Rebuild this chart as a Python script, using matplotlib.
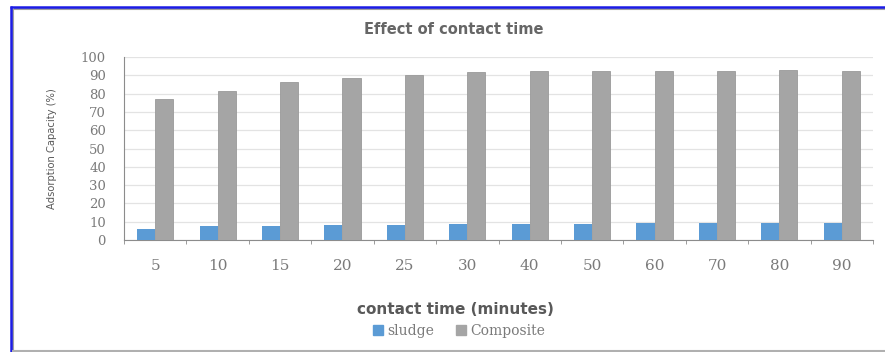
import matplotlib.pyplot as plt
import numpy as np
from matplotlib.lines import Line2D
from matplotlib.patches import Patch

# contact time (minutes) and adsorption capacity (%)
times = ['5', '10', '15', '20', '25', '30', '40', '50', '60', '70', '80', '90']
sludge = [6.0, 7.5, 7.8, 8.2, 8.2, 8.7, 8.7, 8.7, 9.1, 9.1, 9.1, 9.1]
composite = [77.2, 81.4, 86.3, 88.3, 90.2, 92.0, 92.5, 92.5, 92.3, 92.3, 92.7, 92.5]

blue = '#5b9bd5'
grey = '#a5a5a5'
txt = '#595959'

W, H = 885, 352
fig = plt.figure(figsize=(W / 100, H / 100), dpi=100)
ax = fig.add_axes([124 / W, 1 - 240 / H, 749 / W, 183 / H])

x = np.arange(len(times))
bw = 0.29
ax.bar(x - bw / 2, sludge, bw, color=blue, zorder=3)
ax.bar(x + bw / 2, composite, bw, color=grey, edgecolor='#9a9a9a', linewidth=0.6, zorder=3)

ax.set_xlim(-0.5, len(times) - 0.5)
ax.set_ylim(0, 100)
ax.set_yticks(np.arange(0, 101, 10))
ax.set_xticks(x)
ax.set_xticklabels(times)
ax.set_xticks(np.arange(-0.5, len(times)), minor=True)

ax.grid(axis='y', color='#e3e3e3', linewidth=0.9, zorder=0)
for s in ['top', 'right']:
    ax.spines[s].set_visible(False)
ax.spines['left'].set_color('#8c8c8c')
ax.spines['bottom'].set_color('#8c8c8c')

ax.tick_params(axis='y', length=0, pad=13, labelsize=9.5, labelcolor='#7a7a7a')
ax.tick_params(axis='x', which='major', length=0, pad=14, labelsize=11, labelcolor='#7a7a7a')
ax.tick_params(axis='x', which='minor', length=3, color='#8c8c8c')
for lab in ax.get_xticklabels() + ax.get_yticklabels():
    lab.set_family('DejaVu Serif')

fig.text(454 / W, 1 - 29 / H, 'Effect of contact time', ha='center', va='center',
         fontsize=10.5, fontweight='semibold', color='#666666')
fig.text(52 / W, 1 - 149 / H, 'Adsorption Capacity (%)', ha='center', va='center',
         rotation=90, fontsize=7.2, color=txt)
fig.text(455 / W, 1 - 309 / H, 'contact time (minutes)', ha='center', va='center',
         fontsize=11, fontweight='bold', color=txt)

handles = [Patch(color=blue, label='sludge'), Patch(color=grey, label='Composite')]
fig.legend(handles=handles, loc='center', bbox_to_anchor=(459 / W, 1 - 331 / H),
           ncol=2, frameon=False, handlelength=0.7, handleheight=0.7,
           handletextpad=0.3, columnspacing=1.6,
           prop={'family': 'DejaVu Serif', 'size': 10}, labelcolor='#7a7a7a')

# frame around the picture: left and top edges with grey shadow inside
def hline(y, x0, x1, c, lw):
    fig.add_artist(Line2D([x0 / W, x1 / W], [1 - y / H, 1 - y / H], color=c, lw=lw,
                          transform=fig.transFigure, solid_capstyle='butt'))

def vline(xp, y0, y1, c, lw):
    fig.add_artist(Line2D([xp / W, xp / W], [1 - y0 / H, 1 - y1 / H], color=c, lw=lw,
                          transform=fig.transFigure, solid_capstyle='butt'))

hline(9, 14, W, '#a0a0a0', 1.5)
vline(13, 9, H, '#a0a0a0', 1.5)
hline(7, 10, W, '#1c1ce6', 1.8)
vline(11, 6, H, '#1c1ce6', 1.8)
hline(351, 12, W, '#b0b0b0', 1.5)

fig.savefig('out.png', dpi=100)
